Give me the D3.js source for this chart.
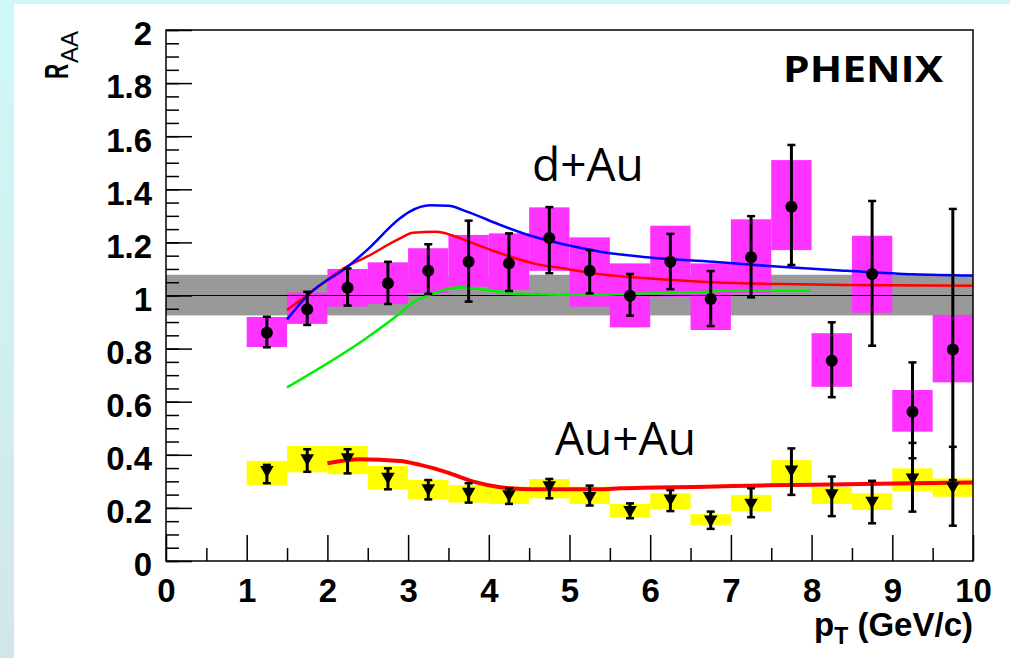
<!DOCTYPE html>
<html>
<head>
<meta charset="utf-8">
<script src="https://cdn.jsdelivr.net/npm/d3@7"></script>
<style>
	html, body { margin: 0; padding: 0; }
	body { width: 1010px; height: 658px; overflow: hidden;
		background: linear-gradient(#cef9f9, #d2e6e8); }
	svg { display: block; }
</style>
</head>
<body>
<div id="main"></div>
<script>
// pT bin centres (GeV/c), bins are 0.5 wide
var ptBins = [1.25,1.75,2.25,2.75,3.25,3.75,4.25,4.75,5.25,5.75,6.25,6.75,7.25,7.75,8.25,8.75,9.25,9.75];

// d+Au
var dAuR      = [0.860,0.948,1.029,1.046,1.093,1.127,1.121,1.217,1.093,0.999,1.127,0.987,1.144,1.334,0.754,1.081,0.562,0.797];
var dAuStatHi = [0.920,1.014,1.102,1.127,1.193,1.282,1.234,1.333,1.171,1.081,1.232,1.092,1.299,1.567,0.899,1.356,0.748,1.326];
var dAuStatLo = [0.805,0.889,0.962,0.968,1.006,0.977,1.017,1.084,1.008,0.924,1.024,0.885,0.993,1.115,0.617,0.811,0.387,0.305];
var dAuSysHi  = [0.919,1.011,1.100,1.125,1.178,1.228,1.234,1.332,1.219,1.121,1.263,1.121,1.287,1.510,0.858,1.225,0.644,0.927];
var dAuSysLo  = [0.806,0.893,0.958,0.968,1.009,1.033,1.021,1.093,0.958,0.880,0.995,0.870,1.008,1.171,0.656,0.935,0.487,0.673];

// Au+Au
var auAuR      = [0.343,0.387,0.391,0.318,0.274,0.261,0.252,0.286,0.245,0.192,0.236,0.157,0.220,0.345,0.255,0.227,0.315,0.282];
var auAuStatHi = [0.362,0.421,0.421,0.349,0.305,0.293,0.274,0.309,0.284,0.217,0.267,0.186,0.274,0.424,0.318,0.302,0.445,0.430];
var auAuStatLo = [0.293,0.336,0.330,0.270,0.232,0.220,0.215,0.236,0.209,0.161,0.188,0.121,0.165,0.249,0.169,0.142,0.186,0.133];
var auAuSysHi  = [0.377,0.433,0.433,0.358,0.305,0.286,0.280,0.309,0.280,0.215,0.255,0.176,0.249,0.380,0.278,0.255,0.349,0.311];
var auAuSysLo  = [0.286,0.334,0.327,0.270,0.232,0.220,0.215,0.236,0.215,0.165,0.195,0.136,0.188,0.290,0.215,0.192,0.264,0.242];

// normalisation band around 1
var normBand = [0.925, 1.078];

// model curves [pT, R]
var dAuBlue = [[1.5,0.910],[1.78,1.008],[2.24,1.106],[2.49,1.171],[2.90,1.291],[3.02,1.316],[3.27,1.340],[3.50,1.338],
	[3.73,1.316],[4.14,1.266],[4.55,1.222],[4.97,1.190],[5.38,1.165],[5.96,1.144],[6.78,1.127],[7.61,1.108],[8.44,1.093],[9.26,1.080],[10,1.075]];
var dAuRed = [[1.5,0.945],[1.78,1.008],[2.24,1.109],[2.49,1.146],[2.90,1.215],[3.06,1.236],[3.35,1.240],[3.55,1.226],
	[3.75,1.203],[4.14,1.159],[4.55,1.121],[4.97,1.100],[5.38,1.080],[5.96,1.065],[6.78,1.050],[7.61,1.043],[8.44,1.040],[10,1.037]];
var dAuGreen = [[1.5,0.654],[2.49,0.841],[2.90,0.933],[3.06,0.973],[3.31,1.008],[3.64,1.031],[4.14,1.014],[4.35,1.006],
	[5.38,1.002],[5.75,1.006],[6.49,1.011],[6.99,1.018],[7.98,1.018]];
var auAuRed = [[2.0,0.368],[2.40,0.383],[2.90,0.377],[3.15,0.362],[3.52,0.330],[3.81,0.299],[4.14,0.278],[4.55,0.270],
	[5.38,0.270],[5.63,0.274],[6.70,0.280],[7.46,0.285],[8.44,0.289],[9.26,0.293],[10,0.296]];

var xMajor = d3.range(0, 11, 1);
var xMinor = d3.range(0.5, 10, 1);
var yMajor = d3.range(0, 2.01, 0.2);
var yMinor = d3.range(0, 2.001, 0.05);

var W = 1010, H = 658;
var x = d3.scaleLinear().domain([0, 10]).range([166, 973]);
var y = d3.scaleLinear().domain([0, 2]).range([561, 30]);
var binHalf = 0.25;

var svg = d3.select("#main").append("svg").attr("width", W).attr("height", H);

// white slide panel
svg.append("rect").attr("x", 14).attr("y", 4).attr("width", W - 14).attr("height", H - 4).attr("fill", "#ffffff");

var plot = svg.append("g");

// normalisation band
plot.append("rect")
	.attr("x", x(0)).attr("width", x(10) - x(0))
	.attr("y", y(normBand[1])).attr("height", y(normBand[0]) - y(normBand[1]))
	.attr("fill", "#999999");

// systematic boxes
function draw_boxes(hi, lo, color){
	plot.append("g").selectAll("rect")
		.data(ptBins).enter().append("rect")
		.attr("x", function(d){ return x(d - binHalf); })
		.attr("width", function(d){ return x(d + binHalf) - x(d - binHalf); })
		.attr("y", function(d, i){ return y(hi[i]); })
		.attr("height", function(d, i){ return y(lo[i]) - y(hi[i]); })
		.attr("fill", color);
}
draw_boxes(dAuSysHi, dAuSysLo, "#ff33ff");
draw_boxes(auAuSysHi, auAuSysLo, "#ffff00");

// line at 1
plot.append("line").attr("x1", x(0)).attr("x2", x(10)).attr("y1", y(1)).attr("y2", y(1))
	.attr("stroke", "#000").attr("stroke-width", 1.2);

// model curves
var line = d3.line()
	.x(function(d){ return x(d[0]); })
	.y(function(d){ return y(d[1]); })
	.curve(d3.curveMonotoneX);
function draw_curve(data, color, width){
	plot.append("path").datum(data).attr("d", line)
		.attr("fill", "none").attr("stroke", color).attr("stroke-width", width);
}
draw_curve(dAuGreen, "#00ee00", 2.5);
draw_curve(dAuRed, "#ff0000", 2.5);
draw_curve(dAuBlue, "#0000ff", 2.5);
draw_curve(auAuRed, "#ff0000", 4);

// statistical error bars
function draw_errors(hi, lo){
	var g = plot.append("g").attr("stroke", "#000").attr("stroke-width", 3);
	g.selectAll("line.bar").data(ptBins).enter().append("line").attr("class", "bar")
		.attr("x1", function(d){ return x(d); }).attr("x2", function(d){ return x(d); })
		.attr("y1", function(d, i){ return y(hi[i]); })
		.attr("y2", function(d, i){ return y(lo[i]); });
	[hi, lo].forEach(function(arr){
		g.append("g").selectAll("line").data(ptBins).enter().append("line")
			.attr("x1", function(d){ return x(d) - 4; }).attr("x2", function(d){ return x(d) + 4; })
			.attr("y1", function(d, i){ return y(arr[i]); })
			.attr("y2", function(d, i){ return y(arr[i]); })
			.attr("stroke-width", 2.5);
	});
}
draw_errors(dAuStatHi, dAuStatLo);
draw_errors(auAuStatHi, auAuStatLo);

// markers
plot.append("g").selectAll("circle").data(ptBins).enter().append("circle")
	.attr("cx", function(d){ return x(d); })
	.attr("cy", function(d, i){ return y(dAuR[i]); })
	.attr("r", 6).attr("fill", "#000");

var tri = d3.symbol().type(d3.symbolTriangle).size(80);
plot.append("g").selectAll("path").data(ptBins).enter().append("path")
	.attr("d", tri)
	.attr("transform", function(d, i){ return "translate(" + x(d) + "," + y(auAuR[i]) + ") rotate(180)"; })
	.attr("fill", "#000");

// axes, ROOT style ticks pointing inwards
var tickFont = "'Liberation Sans', Arial, sans-serif";
function fmt(d){ return String(+d.toFixed(1)); }

var yAxis = svg.append("g").attr("transform", "translate(" + x(0) + ",0)")
	.call(d3.axisLeft(y).tickValues(yMinor).tickSize(-13).tickFormat(""));
var yAxisMaj = svg.append("g").attr("transform", "translate(" + x(0) + ",0)")
	.call(d3.axisLeft(y).tickValues(yMajor).tickSize(-26).tickPadding(14).tickFormat(fmt));
var xAxis = svg.append("g").attr("transform", "translate(0," + y(0) + ")")
	.call(d3.axisBottom(x).tickValues(xMinor).tickSize(-13).tickFormat(""));
var xAxisMaj = svg.append("g").attr("transform", "translate(0," + y(0) + ")")
	.call(d3.axisBottom(x).tickValues(xMajor).tickSize(-26).tickPadding(18).tickFormat(fmt));

[yAxis, yAxisMaj, xAxis, xAxisMaj].forEach(function(a){
	a.select(".domain").remove();
	a.selectAll(".tick line").attr("stroke", "#000").attr("stroke-width", 1.5);
	a.selectAll("text").attr("fill", "#000")
		.style("font-family", tickFont).style("font-weight", "bold").style("font-size", "33px");
});
yAxisMaj.selectAll("text").attr("dy", "0.45em");

// frame
svg.append("rect").attr("x", x(0)).attr("y", y(2))
	.attr("width", x(10) - x(0)).attr("height", y(0) - y(2))
	.attr("fill", "none").attr("stroke", "#000").attr("stroke-width", 1.5);

// axis titles
var yTitle = svg.append("g").attr("transform", "translate(68,79) rotate(-90)");
yTitle.append("text").attr("transform", "scale(0.62,1)")
	.style("font-family", tickFont).style("font-weight", "bold").style("font-size", "34px")
	.text("R");
yTitle.append("text").attr("x", 16).attr("y", 10)
	.style("font-family", tickFont).style("font-size", "24px")
	.text("AA");

var xTitle = svg.append("text").attr("x", x(10)).attr("y", 636).attr("text-anchor", "end")
	.style("font-family", tickFont).style("font-weight", "bold").style("font-size", "33px");
xTitle.append("tspan").text("p");
xTitle.append("tspan").attr("dy", 8).style("font-size", "23px").text("T");
xTitle.append("tspan").attr("dy", -8).text(" (GeV/c)");

// labels inside the frame
svg.append("text").attr("x", 783).attr("y", 82)
	.attr("textLength", 160).attr("lengthAdjust", "spacingAndGlyphs")
	.style("font-family", "'Open Sans', sans-serif").style("font-weight", "bold").style("font-size", "36px")
	.text("PHENIX");
svg.append("text").attr("x", 532).attr("y", 181)
	.style("font-family", "'Open Sans', sans-serif").style("font-size", "46px")
	.text("d+Au");
svg.append("text").attr("x", 555).attr("y", 455)
	.style("font-family", "'Open Sans', sans-serif").style("font-size", "46px")
	.text("Au+Au");
</script>
</body>
</html>
